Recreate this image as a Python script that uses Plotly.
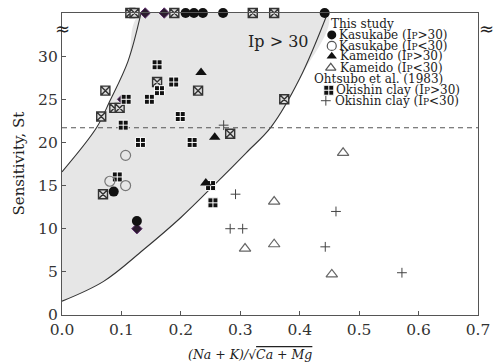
import plotly.graph_objects as go

# ---------------- data ----------------
kasu_hi_x = [0.208, 0.222, 0.237, 0.271, 0.442, 0.087, 0.126]
kasu_hi_s = [35, 35, 35, 35, 35, 14.3, 10.9]
kasu_lo_x = [0.107, 0.0805, 0.107]
kasu_lo_s = [18.5, 15.5, 15.0]
kame_hi_x = [0.234, 0.257, 0.242]
kame_hi_s = [28.1, 20.6, 15.3]
kame_lo_x = [0.357, 0.357, 0.308, 0.454, 0.473]
kame_lo_s = [13.15, 8.2, 7.7, 4.7, 18.8]
oki_hi_x = [0.160, 0.188, 0.164, 0.147, 0.108, 0.199, 0.103, 0.132, 0.219, 0.093, 0.250, 0.254]
oki_hi_s = [29, 27, 26, 25, 25, 23, 22, 20, 20, 16, 15, 13]
oki_lo_x = [0.272, 0.292, 0.283, 0.304, 0.461, 0.443, 0.572]
oki_lo_s = [22, 14, 10, 10, 12, 7.9, 4.9]
mixed_x = [0.115, 0.122, 0.189, 0.321, 0.357, 0.160, 0.073, 0.229, 0.088, 0.097, 0.066, 0.283, 0.069, 0.374]
mixed_s = [35, 35, 35, 35, 35, 27, 26, 26, 24, 24, 23, 21, 14, 25]
diam_x = [0.140, 0.172, 0.102, 0.126]
diam_s = [35, 35, 25, 10.0]

left_curve_x = [0.0, 0.058, 0.0805, 0.111, 0.133]
left_curve_s = [16.6, 21.7, 24.8, 29.4, 35]
right_curve_x = [0.0, 0.07, 0.136, 0.20, 0.258, 0.31, 0.352, 0.40, 0.447]
right_curve_s = [1.6, 3.9, 7.5, 11.3, 15.2, 18.8, 21.8, 27.4, 35]
threshold_s = 21.7

x_ticks = [0.0, 0.1, 0.2, 0.3, 0.4, 0.5, 0.6, 0.7]
y_ticks = [0, 5, 10, 15, 20, 25, 30]

SUBP = "I<span style='font-size:9px'>P</span>"
legend_labels = [f"Kasukabe ({SUBP}>30)", f"Kasukabe ({SUBP}<30)",
                 f"Kameido ({SUBP}>30)", f"Kameido ({SUBP}<30)",
                 f"Okishin clay ({SUBP}>30)", f"Okishin clay ({SUBP}<30)"]

# ---------------- layout geometry ----------------
W, H = 502, 364
L, R, T, B = 62, 483, 12, 315
SERIF = "DejaVu Serif"

styles = {
    "kasu_hi": dict(symbol="circle", size=10, color="#111"),
    "kasu_lo": dict(symbol="circle-open", size=10, color="#777", line=dict(width=1.2)),
    "kame_hi": dict(symbol="triangle-up", size=10, color="#111"),
    "kame_lo": dict(symbol="triangle-up-open", size=10, color="#666", line=dict(width=1.2)),
    "oki_hi": dict(symbol="square-cross", size=10, color="#111", line=dict(color="white", width=1)),
    "oki_lo": dict(symbol="cross-thin-open", size=7, color="#444", line=dict(width=1, color="#444")),
}
leg_styles = {
    "kasu_hi": dict(symbol="circle", size=9, color="#111"),
    "kasu_lo": dict(symbol="circle-open", size=9, color="#555", line=dict(width=1.2)),
    "kame_hi": dict(symbol="triangle-up", size=9, color="#111"),
    "kame_lo": dict(symbol="triangle-up-open", size=9, color="#555", line=dict(width=1.2)),
    "oki_hi": dict(symbol="square-cross", size=10, color="#111", line=dict(color="white", width=1)),
    "oki_lo": dict(symbol="cross-thin-open", size=7, color="#444", line=dict(width=1, color="#444")),
}

fig = go.Figure()

# shaded zone
fig.add_trace(go.Scatter(
    x=left_curve_x + right_curve_x[::-1], y=left_curve_s + right_curve_s[::-1],
    fill="toself", fillcolor="#e6e6e6", mode="lines", line=dict(width=0, shape="spline"),
    hoverinfo="skip", showlegend=False))
for cx, cs in [(left_curve_x, left_curve_s), (right_curve_x, right_curve_s)]:
    fig.add_trace(go.Scatter(x=cx, y=cs, mode="lines",
                             line=dict(color="#333", width=1.1, shape="spline"),
                             hoverinfo="skip", showlegend=False))
# threshold dashed line
fig.add_trace(go.Scatter(x=[x_ticks[0], x_ticks[-1]], y=[threshold_s, threshold_s], mode="lines",
                         line=dict(color="#555", width=1, dash="5px,4px"),
                         hoverinfo="skip", showlegend=False))

def pts(x, s, marker):
    fig.add_trace(go.Scatter(x=x, y=s, mode="markers", marker=marker,
                             cliponaxis=False, showlegend=False))

pts(mixed_x, mixed_s, dict(symbol="square-x", size=9, color="#dcdcdc", line=dict(color="#333", width=1.4)))
pts(diam_x, diam_s, dict(symbol="diamond", size=8, color="#2b1b2e", line=dict(color="#5b2d6b", width=1)))
pts(oki_hi_x, oki_hi_s, styles["oki_hi"])
pts(oki_lo_x, oki_lo_s, styles["oki_lo"])
pts(kame_lo_x, kame_lo_s, styles["kame_lo"])
pts(kame_hi_x, kame_hi_s, styles["kame_hi"])
pts(kasu_lo_x, kasu_lo_s, styles["kasu_lo"])
pts(kasu_hi_x, kasu_hi_s, styles["kasu_hi"])

# ---------------- legend (pixel-space overlay axes) ----------------
leg_keys = ["kasu_hi", "kasu_lo", "kame_hi", "kame_lo", "oki_hi", "oki_lo"]
leg_y = [34, 45, 55.5, 67, 89.5, 100]
leg_mx = [335, 335, 335, 334, 332, 329]
leg_tx = [341, 341, 342, 342, 338, 337]
for k, yy, mx in zip(leg_keys, leg_y, leg_mx):
    fig.add_trace(go.Scatter(x=[mx], y=[yy], mode="markers", marker=leg_styles[k],
                             xaxis="x2", yaxis="y2", showlegend=False, cliponaxis=False))

annotations = []
def px_ann(text, x, y, size=12, xanchor="left", **kw):
    annotations.append(dict(text=text, x=(x - L) / (R - L), y=(B - y) / (B - T),
                            xref="paper", yref="paper", xanchor=xanchor, yanchor="middle",
                            showarrow=False, borderpad=0,
                            font=dict(family=SERIF, size=size, color="#222"), **kw))

px_ann("This study", 333, 23.3)
px_ann("Ohtsubo et al. (1983)", 316, 78.3)
for lab, yy, tx in zip(legend_labels, leg_y, leg_tx):
    px_ann(lab, tx, yy)

px_ann("Ip > 30", 249, 41, size=16)

# axis titles
px_ann("<i>(Na + K)/</i>√<span style='text-decoration:overline'><i>Ca + Mg</i></span>",
       252, 355, size=12.5, xanchor="center")
annotations.append(dict(text="Sensitivity, St", x=(18 - L) / (R - L), y=0.5, xref="paper", yref="paper",
                        textangle=-90, showarrow=False, xanchor="center", yanchor="middle",
                        font=dict(family=SERIF, size=15, color="#222")))
# axis break marks
px_ann("≈", 62, 28, size=18, xanchor="center")
px_ann("≈", 492, 28, size=18, xanchor="center")

axis_common = dict(showgrid=False, zeroline=False, showline=True, linecolor="#555", linewidth=1.2,
                   mirror=True, ticks="inside", ticklen=4, tickcolor="#555",
                   tickfont=dict(family=SERIF, size=15.5, color="#333"))

fig.update_layout(
    width=W, height=H, margin=dict(l=L, r=W - R, t=T, b=H - B),
    paper_bgcolor="white", plot_bgcolor="white", showlegend=False,
    xaxis=dict(range=[x_ticks[0], x_ticks[-1]], tickvals=x_ticks, tickformat=".1f", **axis_common),
    yaxis=dict(range=[0, 35], tickvals=y_ticks, **axis_common),
    xaxis2=dict(range=[L, R], overlaying="x", visible=False),
    yaxis2=dict(range=[B, T], overlaying="y", visible=False),
    annotations=annotations,
)

fig.write_html("out.html", config={"displayModeBar": False},
               post_script="document.body.style.margin='0';document.body.style.padding='0';")
